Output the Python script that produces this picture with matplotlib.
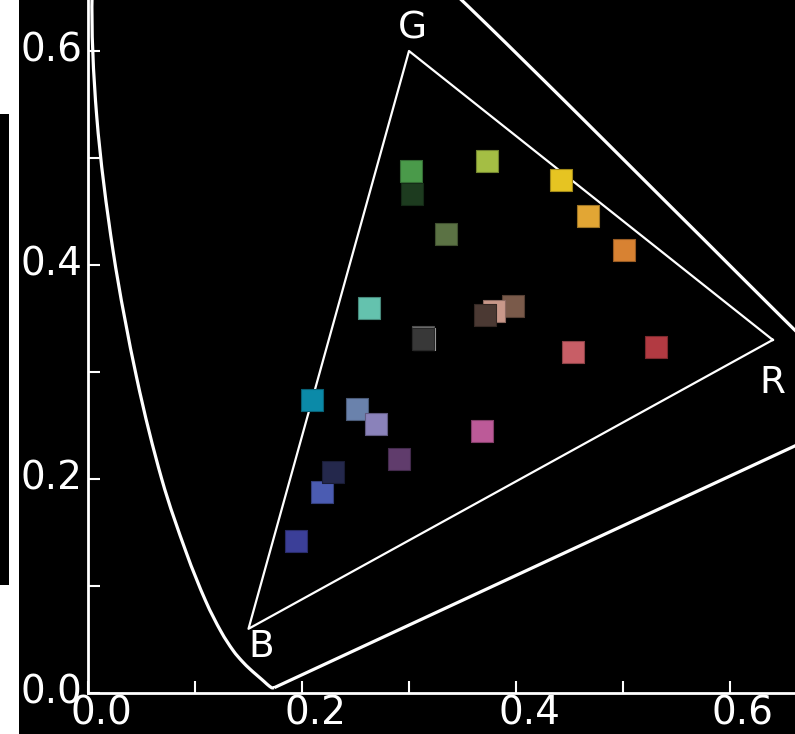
import numpy as np
import matplotlib
matplotlib.use("Agg")
import matplotlib.pyplot as plt
import matplotlib.transforms as mtransforms
from matplotlib.patches import Rectangle, PathPatch
from matplotlib.path import Path
from matplotlib.colors import to_rgb

# CIE 1931 spectral locus (x, y), 380-700 nm
locus_x = [0.1741, 0.1740, 0.1738, 0.1736, 0.1733, 0.1730, 0.1726, 0.1721, 0.1714,
           0.1703, 0.1689, 0.1669, 0.1644, 0.1611, 0.1566, 0.1510, 0.1440, 0.1355,
           0.1241, 0.1096, 0.0913, 0.0687, 0.0454, 0.0235, 0.0082, 0.0039, 0.0139,
           0.0389, 0.0743, 0.1142, 0.1547, 0.1929, 0.2296, 0.2658, 0.3016, 0.3373,
           0.3731, 0.4087, 0.4441, 0.4788, 0.5125, 0.5448, 0.5752, 0.6029, 0.6270,
           0.6482, 0.6658, 0.6801, 0.6915, 0.7006, 0.7079, 0.7140, 0.7190, 0.7230,
           0.7260, 0.7283, 0.7300, 0.7311, 0.7320, 0.7334, 0.7344, 0.7347]
locus_y = [0.0050, 0.0050, 0.0049, 0.0049, 0.0048, 0.0048, 0.0048, 0.0048, 0.0051,
           0.0058, 0.0069, 0.0086, 0.0109, 0.0138, 0.0177, 0.0227, 0.0297, 0.0399,
           0.0578, 0.0868, 0.1327, 0.2007, 0.2950, 0.4127, 0.5384, 0.6548, 0.7502,
           0.8120, 0.8338, 0.8262, 0.8059, 0.7816, 0.7543, 0.7243, 0.6923, 0.6589,
           0.6245, 0.5896, 0.5547, 0.5202, 0.4866, 0.4544, 0.4242, 0.3965, 0.3725,
           0.3514, 0.3340, 0.3197, 0.3083, 0.2993, 0.2920, 0.2859, 0.2809, 0.2770,
           0.2740, 0.2717, 0.2700, 0.2689, 0.2680, 0.2666, 0.2656, 0.2653]

# sRGB primaries
prim_names = ["R", "G", "B"]
prim_x = [0.64, 0.30, 0.15]
prim_y = [0.33, 0.60, 0.06]

# colour patches (xy chromaticity + displayed colour), drawn in this order
patch_x = [0.1944, 0.2187, 0.2290, 0.2093, 0.2514, 0.2692, 0.2907, 0.3682,
           0.3140, 0.3131, 0.3131, 0.2626, 0.3972, 0.3794, 0.3710, 0.3028,
           0.3019, 0.3346, 0.3729, 0.4421, 0.4673, 0.5009, 0.4533, 0.5308]
patch_y = [0.1421, 0.1879, 0.2065, 0.2738, 0.2654, 0.2514, 0.2187, 0.2449,
           0.3308, 0.3326, 0.3308, 0.3598, 0.3617, 0.3570, 0.3533, 0.4664,
           0.4879, 0.4290, 0.4972, 0.4794, 0.4458, 0.4140, 0.3187, 0.3234]
patch_colors = ["#3b3f98", "#4b5cb2", "#24284c", "#0b8aa8", "#6a82ac", "#8a82ba",
                "#603c6c", "#bc5a98", "#e8e8e8", "#6e6e6e", "#383838", "#64c2ae",
                "#7a5a4a", "#c9988a", "#4b3933", "#1d3b1f", "#4a9a4a", "#5b7244",
                "#a4be44", "#e6c422", "#e2a634", "#d88232", "#c85e66", "#b23a42"]

fig = plt.figure(figsize=(7.95, 7.34), dpi=100, facecolor="white")
fig.patches.append(Rectangle((19 / 795, 0), 1, 1, transform=fig.transFigure,
                             facecolor="black", edgecolor="none", zorder=-5))
fig.patches.append(Rectangle((0, 149 / 734), 9 / 795, 471 / 734, transform=fig.transFigure,
                             facecolor="black", edgecolor="none", zorder=-5))

ax = fig.add_axes([88 / 795, 41 / 734, 749 / 795, 749 / 734])
ax.set_facecolor("black")
ax.set_xlim(0, 0.7)
ax.set_ylim(0, 0.7)

# spectral locus as smooth bezier path through the table points, closed by line of purples
pts = np.column_stack([locus_x, locus_y])
n = len(pts)
verts = [pts[0]]
codes = [Path.MOVETO]
for i in range(n - 1):
    p0 = pts[max(i - 1, 0)]
    p1 = pts[i]
    p2 = pts[i + 1]
    p3 = pts[min(i + 2, n - 1)]
    verts += [p1 + (p2 - p0) / 6, p2 - (p3 - p1) / 6, p2]
    codes += [Path.CURVE4] * 3
verts.append(pts[0])
codes.append(Path.LINETO)
ax.add_patch(PathPatch(Path(verts, codes), fill=False, edgecolor="white",
                       lw=2.3, joinstyle="miter"))

# sRGB triangle
ax.plot(prim_x + [prim_x[0]], prim_y + [prim_y[0]], color="white", lw=1.6)

label_off = {"R": (0.0, -0.040), "G": (0.003, 0.021), "B": (0.012, -0.017)}
for name, px, py in zip(prim_names, prim_x, prim_y):
    dx, dy = label_off[name]
    ax.text(px + dx, py + dy, name, color="white", fontsize=27,
            ha="center", va="center")

for px, py, c in zip(patch_x, patch_y, patch_colors):
    edge = tuple(v * 0.7 for v in to_rgb(c))
    ax.scatter([px], [py], marker="s", s=15.3 ** 2, color=c,
               edgecolors=[edge], linewidths=0.8, zorder=3)

for side in ["top", "right"]:
    ax.spines[side].set_visible(False)
for side in ["left", "bottom"]:
    ax.spines[side].set_color("white")
    ax.spines[side].set_linewidth(2.0)

ticks = [0.0, 0.1, 0.2, 0.3, 0.4, 0.5, 0.6]
tick_labels = ["0.0", "", "0.2", "", "0.4", "", "0.6"]
ax.set_xticks(ticks)
ax.set_xticklabels(tick_labels)
ax.set_yticks(ticks)
ax.set_yticklabels(tick_labels)
ax.tick_params(direction="in", length=8.6, width=1.5, color="white",
               labelcolor="white", labelsize=28)
ax.tick_params(axis="x", pad=1)
ax.tick_params(axis="y", pad=4)

xoff = mtransforms.ScaledTranslation(13 / 100, 0, fig.dpi_scale_trans)
for lab in ax.get_xticklabels():
    lab.set_transform(lab.get_transform() + xoff)
yoff = mtransforms.ScaledTranslation(0, 4 / 100, fig.dpi_scale_trans)
for lab in ax.get_yticklabels():
    lab.set_transform(lab.get_transform() + yoff)

fig.savefig("out.png", dpi=100, facecolor="white")
